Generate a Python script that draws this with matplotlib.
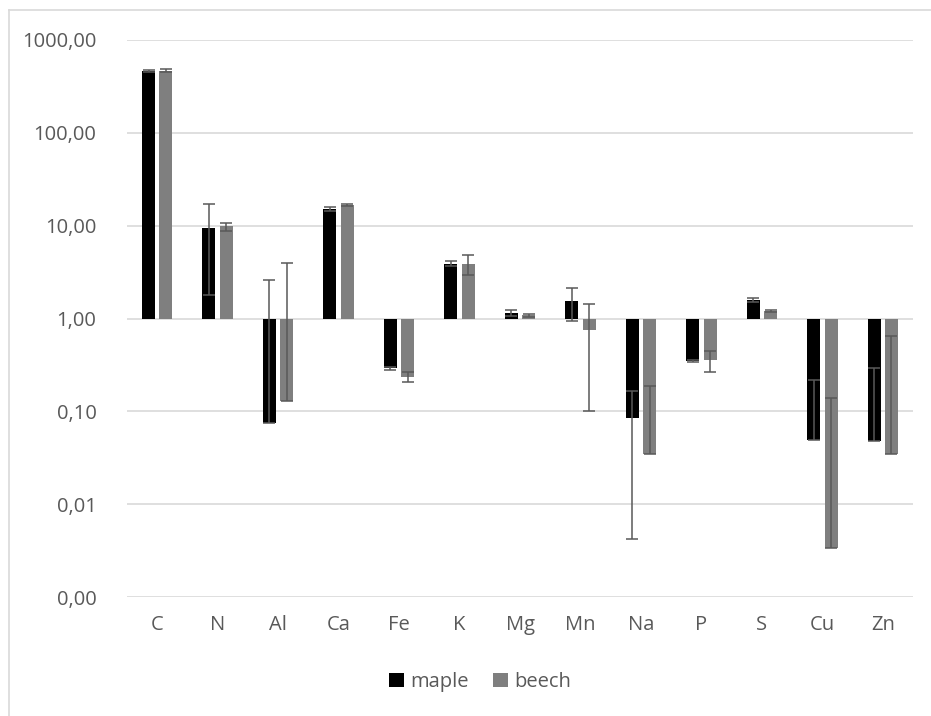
import numpy as np
import matplotlib
matplotlib.use("Agg")
import matplotlib.pyplot as plt
from matplotlib.ticker import FixedLocator, FuncFormatter, NullLocator
from matplotlib.lines import Line2D
from matplotlib.patches import Patch

# Element ratios (mean and standard deviation) per tree species
elements = ["C", "N", "Al", "Ca", "Fe", "K", "Mg", "Mn", "Na", "P", "S", "Cu", "Zn"]
maple_mean = [462, 9.5, 0.075, 15.2, 0.29, 3.9, 1.14, 1.53, 0.0846, 0.35, 1.58, 0.049, 0.048]
maple_sd = [8, 7.7, 2.55, 0.8, 0.01, 0.25, 0.08, 0.6, 0.0804, 0.01, 0.09, 0.171, 0.242]
beech_mean = [468, 9.8, 0.13, 16.7, 0.237, 3.9, 1.09, 0.76, 0.035, 0.356, 1.21, 0.0034, 0.035]
beech_sd = [20, 1.0, 3.82, 0.3, 0.03, 0.95, 0.04, 0.66, 0.154, 0.088, 0.03, 0.136, 0.605]
y_ticks = [0.001, 0.01, 0.1, 1, 10, 100, 1000]

W, H = 931, 716
fig = plt.figure(figsize=(W / 100, H / 100), dpi=100)
fig.patch.set_facecolor("white")

# light frame around the chart area
fig.add_artist(Line2D([9 / W, 1], [1 - 10 / H, 1 - 10 / H], transform=fig.transFigure,
                      color="#d9d9d9", lw=1.2))
fig.add_artist(Line2D([9 / W, 9 / W], [0, 1 - 10 / H], transform=fig.transFigure,
                      color="#d9d9d9", lw=1.2))

ax = fig.add_axes([127 / W, 1 - 597 / H, (913 - 127) / W, (597 - 40) / H])
ax.set_yscale("log")
ax.set_ylim(0.001, 1000)
ax.set_xlim(-0.5, len(elements) - 0.5)

x = np.arange(len(elements))
bw = 0.215
off = 0.144
base = 1.0
txt = "#595959"
err_c = "#595959"

series = [
    ("maple", maple_mean, maple_sd, "#000000", -off),
    ("beech", beech_mean, beech_sd, "#7f7f7f", off),
]
for name, mean, sd, col, dx in series:
    mean = np.array(mean, dtype=float)
    sd = np.array(sd, dtype=float)
    ax.bar(x + dx, mean - base, bottom=base, width=bw, color=col, zorder=2, label=name)
    # a lower whisker that would cross zero is not drawn on the log axis
    lower = np.where(mean - sd > 0, sd, 0.0)
    ax.errorbar(x + dx, mean, yerr=[lower, sd], fmt="none", ecolor=err_c,
                elinewidth=1.1, capsize=4.3, capthick=1.1, zorder=3)

ax.yaxis.set_major_locator(FixedLocator(y_ticks))
ax.yaxis.set_minor_locator(NullLocator())
ax.yaxis.set_major_formatter(FuncFormatter(lambda v, p: f"{v:.2f}".replace(".", ",")))
ax.set_xticks(x)
ax.set_xticklabels(elements)

ax.grid(axis="y", color="#d9d9d9", lw=1.2, zorder=0)
ax.set_axisbelow(True)
for s in ax.spines.values():
    s.set_visible(False)

font = ["Open Sans", "DejaVu Sans"]
ax.tick_params(axis="both", length=0, labelcolor=txt, labelsize=14.5)
ax.tick_params(axis="y", pad=22)
ax.tick_params(axis="x", pad=13)
for lab in ax.get_xticklabels() + ax.get_yticklabels():
    lab.set_family(font)

handles = [Patch(facecolor="#000000", label="maple"), Patch(facecolor="#7f7f7f", label="beech")]
fig.legend(handles=handles, loc="center", bbox_to_anchor=(480 / W, 1 - 682 / H), ncol=2,
           frameon=False, prop={"family": font, "size": 14.5}, labelcolor=txt,
           handlelength=0.75, handleheight=0.75, handletextpad=0.3, columnspacing=1.2)

fig.savefig("out.png", dpi=100, facecolor="white")
